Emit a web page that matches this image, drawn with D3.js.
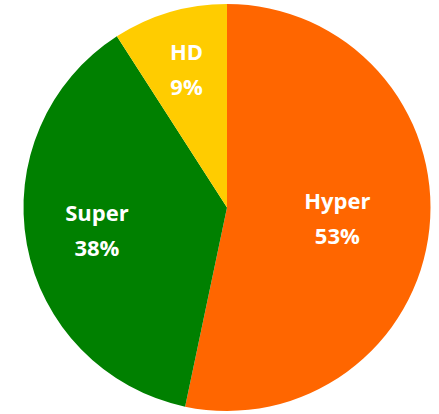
<!DOCTYPE html>
<html lang="en">
<head>
<meta charset="UTF-8">
<title>Pie</title>
<style>
body { margin: 0; background: #fff; }
.label {
  font: 700 22px "Open Sans", "Liberation Sans", sans-serif;
  fill: #fff;
}
</style>
</head>
<body>
<script src="https://cdn.jsdelivr.net/npm/d3@7"></script>
<script>
// data
var categories = ["Hyper", "Super", "HD"];
var shares = [53.3, 37.6, 9.1];
var colors = ["#ff6600", "#008000", "#ffcc00"];

// layout: where each label sits, as a fraction of radius
var labelFrac = [0.545, 0.65, 0.705];

var width = 439, height = 414;
var cx = 227, cy = 207.5, radius = 203.5;

var svg = d3.select("body").append("svg")
    .attr("width", width)
    .attr("height", height)
  .append("g")
    .attr("transform", "translate(" + cx + "," + cy + ")");

var pie = d3.pie().sort(null).value(function(d) { return d.value; });

var rows = categories.map(function(c, i) { return { name: c, value: shares[i], i: i }; });
var arcs = pie(rows);

var arc = d3.arc().innerRadius(0).outerRadius(radius);

svg.selectAll("path")
  .data(arcs)
  .enter().append("path")
    .attr("d", arc)
    .attr("fill", function(d) { return colors[d.data.i]; });

var total = d3.sum(shares);

var labels = svg.selectAll(".label")
  .data(arcs)
  .enter().append("text")
    .attr("class", "label")
    .attr("text-anchor", "middle")
    .attr("transform", function(d) {
      var r = radius * labelFrac[d.data.i];
      var c = d3.arc().innerRadius(r).outerRadius(r).centroid(d);
      return "translate(" + c[0] + "," + c[1] + ")";
    });

labels.append("tspan")
    .attr("x", 0)
    .attr("y", -10)
    .text(function(d) { return d.data.name; });

labels.append("tspan")
    .attr("x", 0)
    .attr("y", 25)
    .text(function(d) { return Math.round(d.data.value / total * 100) + "%"; });
</script>
</body>
</html>
